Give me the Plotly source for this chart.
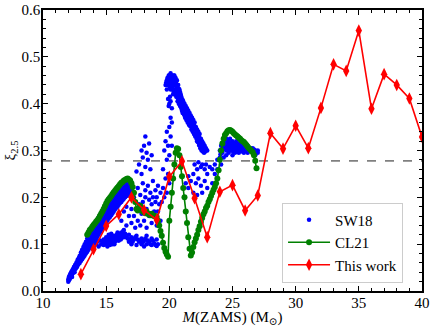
import plotly.graph_objects as go

# ---------------- data ----------------
# This work (red)
tw_mass = [13, 14, 15, 16, 17, 18, 19, 20, 21, 22, 23, 24, 25, 26, 27,
           28, 29, 30, 31, 32, 33, 34, 35, 36, 37, 38, 39, 40]
tw_xi = [0.036, 0.089, 0.139, 0.164, 0.200, 0.173, 0.152, 0.244, 0.277, 0.198,
         0.115, 0.212, 0.226, 0.172, 0.204, 0.337, 0.304, 0.353, 0.305, 0.391,
         0.484, 0.470, 0.556, 0.389, 0.463, 0.440, 0.411, 0.329]

# CL21 (green)
cl_mass = [13.5, 13.6, 13.7, 13.8, 13.9, 14.0, 14.1, 14.2, 14.3, 14.4, 14.5, 14.6, 14.7, 14.8, 14.9,
           15.0, 15.1, 15.2, 15.3, 15.4, 15.5, 15.6, 15.7, 15.8, 15.9, 16.0, 16.1, 16.2, 16.3, 16.4,
           16.5, 16.6, 16.7, 16.8, 16.9, 17.0, 17.1, 17.2, 17.3, 17.4, 17.5, 17.6, 17.7, 17.8, 17.9,
           18.0, 18.1, 18.2, 18.3, 18.4, 18.5, 18.6, 18.7, 18.8, 18.9, 19.0, 19.1, 19.2, 19.3, 19.4,
           19.5, 19.6, 19.7, 19.8, 19.9, 20.0, 20.1, 20.2, 20.3, 20.4, 20.5, 20.6, 20.7, 20.8, 20.9,
           21.0, 21.1, 21.2, 21.3, 21.4, 21.5, 21.6, 21.7, 21.8, 21.9, 22.0, 22.1, 22.2, 22.3, 22.4,
           22.5, 22.6, 22.7, 22.8, 22.9, 23.0, 23.1, 23.2, 23.3, 23.4, 23.5, 23.6, 23.7, 23.8, 23.9,
           24.0, 24.1, 24.2, 24.3, 24.4, 24.5, 24.6, 24.7, 24.8, 24.9, 25.0, 25.1, 25.2, 25.3, 25.4,
           25.5, 25.6, 25.7, 25.8, 25.9, 26.0, 26.1, 26.2, 26.3, 26.4, 26.5, 26.6, 26.7, 26.8, 26.9]
cl_xi = [0.120, 0.125, 0.130, 0.133, 0.137, 0.141, 0.144, 0.148, 0.151, 0.155, 0.160, 0.165, 0.170, 0.175, 0.181,
         0.187, 0.192, 0.196, 0.199, 0.203, 0.207, 0.211, 0.214, 0.218, 0.221, 0.224, 0.228, 0.231, 0.233, 0.236,
         0.237, 0.239, 0.240, 0.238, 0.236, 0.230, 0.222, 0.210, 0.190, 0.175, 0.172, 0.178, 0.182, 0.176, 0.170,
         0.168, 0.166, 0.170, 0.165, 0.163, 0.162, 0.165, 0.161, 0.160, 0.160, 0.158, 0.150, 0.140, 0.128, 0.118,
         0.103, 0.092, 0.084, 0.078, 0.073, 0.150, 0.180, 0.210, 0.240, 0.270, 0.295, 0.305, 0.303, 0.290, 0.265,
         0.245, 0.220, 0.200, 0.170, 0.145, 0.115, 0.090, 0.076, 0.082, 0.094, 0.104, 0.112, 0.120, 0.130, 0.138,
         0.148, 0.156, 0.164, 0.170, 0.177, 0.182, 0.190, 0.196, 0.203, 0.210, 0.216, 0.222, 0.230, 0.240, 0.258,
         0.280, 0.300, 0.315, 0.325, 0.333, 0.337, 0.341, 0.343, 0.344, 0.342, 0.340, 0.337, 0.334, 0.332, 0.330,
         0.327, 0.325, 0.322, 0.320, 0.318, 0.315, 0.312, 0.308, 0.305, 0.302, 0.299, 0.296, 0.290, 0.278, 0.262]

# SW18 (blue) -- (mass, xi) pairs, grouped by region
sw18_main_band = [
    (12.0, 0.020), (12.0, 0.025), (12.1, 0.025), (12.1, 0.032), (12.2, 0.030), (12.2, 0.038),
    (12.3, 0.035), (12.3, 0.042), (12.3, 0.030), (12.4, 0.040), (12.4, 0.047), (12.5, 0.045),
    (12.5, 0.052), (12.5, 0.040), (12.6, 0.048), (12.6, 0.056), (12.7, 0.052), (12.7, 0.062),
    (12.7, 0.058), (12.8, 0.057), (12.8, 0.066), (12.9, 0.060), (12.9, 0.070), (12.9, 0.075),
    (13.0, 0.064), (13.0, 0.075), (13.0, 0.082), (13.1, 0.068), (13.1, 0.080), (13.1, 0.088),
    (13.2, 0.072), (13.2, 0.085), (13.2, 0.094), (13.3, 0.076), (13.3, 0.090), (13.3, 0.100),
    (13.4, 0.080), (13.4, 0.095), (13.4, 0.105), (13.5, 0.084), (13.5, 0.100), (13.5, 0.112),
    (13.6, 0.088), (13.6, 0.104), (13.6, 0.118), (13.7, 0.092), (13.7, 0.110), (13.7, 0.122),
    (13.8, 0.096), (13.8, 0.114), (13.8, 0.128), (13.9, 0.100), (13.9, 0.120), (13.9, 0.133),
    (14.0, 0.105), (14.0, 0.124), (14.0, 0.138), (14.1, 0.108), (14.1, 0.128), (14.1, 0.142),
    (14.2, 0.112), (14.2, 0.133), (14.2, 0.147), (14.3, 0.116), (14.3, 0.137), (14.3, 0.152),
    (14.4, 0.120), (14.4, 0.142), (14.4, 0.157), (14.5, 0.125), (14.5, 0.146), (14.5, 0.162),
    (14.6, 0.130), (14.6, 0.150), (14.6, 0.166), (14.7, 0.134), (14.7, 0.155), (14.7, 0.170),
    (14.8, 0.138), (14.8, 0.160), (14.8, 0.175), (14.9, 0.143), (14.9, 0.164), (14.9, 0.180),
    (15.0, 0.148), (15.0, 0.168), (15.0, 0.183), (15.1, 0.150), (15.1, 0.172), (15.1, 0.187),
    (15.2, 0.155), (15.2, 0.176), (15.2, 0.190), (15.3, 0.158), (15.3, 0.180), (15.3, 0.194),
    (15.4, 0.162), (15.4, 0.184), (15.4, 0.198), (15.5, 0.166), (15.5, 0.188), (15.5, 0.201),
    (15.6, 0.170), (15.6, 0.191), (15.6, 0.205), (15.7, 0.174), (15.7, 0.195), (15.7, 0.208),
    (15.8, 0.178), (15.8, 0.198), (15.8, 0.212), (15.9, 0.180), (15.9, 0.200), (15.9, 0.215),
    (16.0, 0.184), (16.0, 0.204), (16.0, 0.218), (16.1, 0.188), (16.1, 0.207), (16.1, 0.221),
    (16.2, 0.190), (16.2, 0.210), (16.2, 0.224), (16.3, 0.194), (16.3, 0.213), (16.3, 0.226),
    (16.4, 0.197), (16.4, 0.216), (16.4, 0.229), (16.5, 0.200), (16.5, 0.219), (16.5, 0.232),
    (16.6, 0.203), (16.6, 0.222), (16.7, 0.205), (16.7, 0.224), (16.8, 0.208), (16.8, 0.226),
    (16.9, 0.210), (16.9, 0.222), (17.0, 0.200), (17.0, 0.215),
]
sw18_band_fill = [
    (12.05, 0.023), (12.05, 0.030), (12.15, 0.029), (12.15, 0.036), (12.25, 0.034), (12.25, 0.041),
    (12.35, 0.038), (12.35, 0.046), (12.45, 0.043), (12.45, 0.051), (12.55, 0.048), (12.55, 0.056),
    (12.65, 0.052), (12.65, 0.061), (12.75, 0.056), (12.75, 0.067), (12.85, 0.061), (12.85, 0.071),
    (12.95, 0.065), (12.95, 0.076), (13.05, 0.070), (13.05, 0.082), (13.15, 0.074), (13.15, 0.087),
    (13.25, 0.079), (13.25, 0.093), (13.35, 0.083), (13.35, 0.098), (13.45, 0.087), (13.45, 0.103),
    (13.55, 0.092), (13.55, 0.108), (13.65, 0.096), (13.65, 0.113), (13.75, 0.100), (13.75, 0.118),
    (13.85, 0.105), (13.85, 0.122), (13.95, 0.110), (13.95, 0.127), (14.05, 0.114), (14.05, 0.132),
    (14.15, 0.118), (14.15, 0.136), (14.25, 0.123), (14.25, 0.141), (14.35, 0.127), (14.35, 0.145),
    (14.45, 0.132), (14.45, 0.150), (14.55, 0.136), (14.55, 0.155), (14.65, 0.141), (14.65, 0.159),
    (14.75, 0.145), (14.75, 0.163), (14.85, 0.150), (14.85, 0.168), (14.95, 0.154), (14.95, 0.172),
    (15.05, 0.158), (15.05, 0.176), (15.15, 0.162), (15.15, 0.180), (15.25, 0.166), (15.25, 0.184),
    (15.35, 0.170), (15.35, 0.188), (15.45, 0.174), (15.45, 0.192), (15.55, 0.178), (15.55, 0.195),
    (15.65, 0.182), (15.65, 0.199), (15.75, 0.186), (15.75, 0.202), (15.85, 0.189), (15.85, 0.206),
    (15.95, 0.192), (15.95, 0.209), (16.05, 0.195), (16.05, 0.212), (16.15, 0.198), (16.15, 0.215),
    (16.25, 0.201), (16.25, 0.218), (16.35, 0.204), (16.35, 0.221), (16.45, 0.207), (16.45, 0.224),
    (16.55, 0.210), (16.55, 0.227), (16.65, 0.213), (16.65, 0.230), (16.75, 0.216), (16.75, 0.232),
    (16.85, 0.218), (16.85, 0.234),
]
sw18_low_branch = [
    (14.2, 0.100), (14.4, 0.095), (14.6, 0.100), (14.8, 0.098), (14.8, 0.110), (15.0, 0.100),
    (15.0, 0.115), (15.1, 0.095), (15.2, 0.105), (15.2, 0.120), (15.3, 0.098), (15.4, 0.110),
    (15.4, 0.122), (15.5, 0.100), (15.6, 0.112), (15.7, 0.105), (15.7, 0.118), (15.8, 0.110),
    (15.9, 0.115), (15.9, 0.125), (16.0, 0.108), (16.1, 0.118), (16.2, 0.112), (16.2, 0.125),
    (16.3, 0.120), (16.4, 0.115), (16.4, 0.130), (16.5, 0.122), (16.8, 0.105), (16.8, 0.120),
    (17.0, 0.100), (17.0, 0.115), (17.2, 0.110), (17.4, 0.098), (17.4, 0.118), (17.6, 0.105),
    (17.8, 0.100), (17.8, 0.112), (18.0, 0.095), (18.0, 0.108), (18.2, 0.100), (18.2, 0.118),
    (18.4, 0.105), (18.6, 0.098), (18.6, 0.112), (18.8, 0.102), (19.0, 0.096), (19.0, 0.110),
    (19.1, 0.100),
    (14.3, 0.105), (14.5, 0.108), (14.7, 0.106), (14.9, 0.104), (15.05, 0.108), (15.15, 0.112),
    (15.25, 0.100), (15.35, 0.115), (15.45, 0.105), (15.55, 0.118), (15.65, 0.100), (15.75, 0.112),
    (15.85, 0.120), (15.95, 0.108), (16.05, 0.122), (16.15, 0.110), (16.25, 0.118), (16.35, 0.128),
    (16.45, 0.120), (16.6, 0.115), (16.7, 0.112), (16.9, 0.110), (17.1, 0.105), (17.3, 0.115),
    (17.5, 0.110), (17.7, 0.108), (17.9, 0.104), (18.1, 0.112), (18.3, 0.108), (18.5, 0.100),
    (18.7, 0.108), (18.9, 0.098),
]
sw18_scatter_mid = [
    (16.2, 0.150), (16.4, 0.170), (16.6, 0.140), (16.6, 0.180), (16.8, 0.160), (17.0, 0.145),
    (17.0, 0.175), (17.2, 0.160), (17.2, 0.200), (17.3, 0.135), (17.5, 0.150), (17.5, 0.220),
    (17.6, 0.185), (17.7, 0.140), (17.7, 0.205), (17.8, 0.165), (17.9, 0.190), (17.9, 0.230),
    (18.0, 0.150), (18.1, 0.200), (18.1, 0.215), (18.2, 0.135), (18.2, 0.175), (18.3, 0.225),
    (18.4, 0.160), (18.4, 0.195), (18.5, 0.210), (18.6, 0.145), (18.6, 0.185), (18.7, 0.200),
    (18.7, 0.235), (18.8, 0.170), (18.9, 0.190), (18.9, 0.215), (19.0, 0.140), (19.0, 0.200),
    (19.1, 0.170), (19.1, 0.225), (19.2, 0.185), (19.3, 0.150), (19.3, 0.210), (19.4, 0.190),
    (17.4, 0.255), (17.6, 0.270), (17.8, 0.300), (17.8, 0.250), (17.9, 0.285), (18.0, 0.310),
    (18.1, 0.330), (18.1, 0.265), (18.2, 0.295), (18.3, 0.280), (18.4, 0.315), (18.5, 0.260),
    (18.6, 0.290),
    (19.5, 0.220), (19.5, 0.260), (19.6, 0.200), (19.6, 0.300), (19.7, 0.240), (19.7, 0.320),
    (19.8, 0.210), (19.8, 0.280), (19.8, 0.340), (19.9, 0.250), (19.9, 0.310), (20.0, 0.230),
    (20.0, 0.290), (20.0, 0.350), (20.1, 0.330), (20.1, 0.370), (20.2, 0.310), (20.2, 0.360),
    (20.2, 0.390),
]
sw18_tower = [
    (19.7, 0.440), (19.8, 0.450), (19.8, 0.430), (19.9, 0.455), (20.0, 0.460), (20.0, 0.440),
    (20.0, 0.450), (20.1, 0.465), (20.1, 0.445), (20.1, 0.430), (20.2, 0.460), (20.2, 0.450),
    (20.2, 0.435), (20.3, 0.455), (20.3, 0.440), (20.3, 0.420), (20.4, 0.460), (20.4, 0.450),
    (20.4, 0.430), (20.5, 0.455), (20.5, 0.440), (20.5, 0.425), (20.6, 0.450), (20.6, 0.435),
    (20.6, 0.415), (20.7, 0.440), (20.7, 0.425), (20.7, 0.410), (20.8, 0.430), (20.8, 0.415),
    (20.8, 0.400), (20.9, 0.420), (20.9, 0.405), (20.9, 0.395), (21.0, 0.410), (21.0, 0.400),
    (21.0, 0.385), (21.1, 0.405), (21.1, 0.390), (21.2, 0.400), (21.2, 0.385), (21.2, 0.375),
    (21.3, 0.395), (21.3, 0.380), (21.4, 0.390), (21.4, 0.375), (21.4, 0.365), (21.5, 0.385),
    (21.5, 0.370), (21.6, 0.380), (21.6, 0.365), (21.7, 0.375), (21.7, 0.360), (21.8, 0.370),
    (21.8, 0.355), (21.8, 0.345), (21.9, 0.365), (21.9, 0.350), (22.0, 0.360), (22.0, 0.345),
    (22.0, 0.335), (22.1, 0.350), (22.1, 0.335), (22.2, 0.345), (22.2, 0.330), (22.2, 0.320),
    (22.3, 0.340), (22.3, 0.325), (22.4, 0.335), (22.4, 0.320), (22.4, 0.310), (22.5, 0.325),
    (22.5, 0.310), (22.6, 0.320), (22.6, 0.305), (22.7, 0.315), (22.7, 0.300), (22.8, 0.310),
    (22.8, 0.305), (22.9, 0.305), (23.0, 0.300),
    (19.75, 0.445), (19.85, 0.440), (19.85, 0.455), (19.95, 0.445), (19.95, 0.460), (20.05, 0.435),
    (20.05, 0.455), (20.15, 0.440), (20.15, 0.458), (20.25, 0.430), (20.25, 0.448), (20.35, 0.425),
    (20.35, 0.445), (20.35, 0.460), (20.45, 0.420), (20.45, 0.440), (20.45, 0.455), (20.55, 0.415),
    (20.55, 0.432), (20.55, 0.448), (20.65, 0.405), (20.65, 0.425), (20.65, 0.440), (20.75, 0.400),
    (20.75, 0.418), (20.75, 0.432), (20.85, 0.395), (20.85, 0.410), (20.85, 0.425), (20.95, 0.390),
    (20.95, 0.402), (20.95, 0.415), (21.05, 0.380), (21.05, 0.395), (21.05, 0.408), (21.15, 0.378),
    (21.15, 0.392), (21.25, 0.370), (21.25, 0.390), (21.35, 0.365), (21.35, 0.385), (21.45, 0.360),
    (21.45, 0.380), (21.55, 0.355), (21.55, 0.375), (21.65, 0.352), (21.65, 0.370), (21.75, 0.345),
    (21.75, 0.365), (21.85, 0.340), (21.85, 0.360), (21.95, 0.335), (21.95, 0.355), (22.05, 0.330),
    (22.05, 0.350), (22.15, 0.325), (22.15, 0.342), (22.25, 0.318), (22.25, 0.335), (22.35, 0.312),
    (22.35, 0.330), (22.45, 0.305), (22.45, 0.322), (22.55, 0.300), (22.55, 0.316), (22.65, 0.298),
    (22.65, 0.310), (22.75, 0.295), (22.75, 0.306), (22.85, 0.298),
    (19.90, 0.410), (20.00, 0.400), (20.05, 0.415), (19.95, 0.395), (20.10, 0.405),
]
sw18_under = [
    (21.3, 0.230), (21.5, 0.220), (21.5, 0.245), (21.7, 0.235), (21.9, 0.250), (21.9, 0.210),
    (22.0, 0.270), (22.1, 0.230), (22.2, 0.260), (22.2, 0.205), (22.3, 0.275), (22.3, 0.240),
    (22.5, 0.265), (22.5, 0.225), (22.6, 0.270), (22.6, 0.210), (22.8, 0.260), (22.8, 0.235),
    (22.9, 0.270), (23.0, 0.250), (23.0, 0.220), (23.2, 0.265), (23.4, 0.260), (23.4, 0.230),
    (23.6, 0.270), (23.6, 0.250), (23.8, 0.280), (23.8, 0.260),
]
sw18_late = [
    (24.0, 0.285), (24.0, 0.300), (24.1, 0.310), (24.1, 0.270), (24.2, 0.295), (24.2, 0.315),
    (24.3, 0.305), (24.3, 0.325), (24.3, 0.285), (24.4, 0.310), (24.4, 0.320), (24.5, 0.300),
    (24.5, 0.325), (24.5, 0.290), (24.6, 0.315), (24.6, 0.305), (24.7, 0.320), (24.7, 0.295),
    (24.8, 0.310), (24.8, 0.325), (24.9, 0.300), (24.9, 0.315), (25.0, 0.305), (25.0, 0.320),
    (25.0, 0.290), (25.1, 0.310), (25.1, 0.300), (25.2, 0.315), (25.2, 0.295), (25.3, 0.305),
    (25.3, 0.320), (25.4, 0.300), (25.4, 0.310), (25.5, 0.305), (25.5, 0.295), (25.5, 0.315),
    (25.6, 0.310), (25.6, 0.300), (25.7, 0.305), (25.8, 0.300), (25.8, 0.315), (25.9, 0.310),
    (25.9, 0.295), (26.0, 0.305), (26.0, 0.300), (26.2, 0.310), (26.2, 0.295), (26.4, 0.300),
    (26.4, 0.305), (26.6, 0.305), (26.6, 0.295), (26.8, 0.300), (26.8, 0.290), (27.0, 0.300),
    (27.0, 0.295),
    (24.05, 0.292), (24.15, 0.300), (24.25, 0.310), (24.35, 0.315), (24.45, 0.305), (24.55, 0.310),
    (24.65, 0.300), (24.75, 0.310), (24.85, 0.305), (24.95, 0.310), (25.05, 0.298), (25.15, 0.305),
    (25.25, 0.310), (25.35, 0.298), (25.45, 0.305), (25.65, 0.308), (25.75, 0.298), (25.95, 0.302),
    (26.10, 0.305), (26.30, 0.300), (26.50, 0.298), (26.70, 0.302), (26.90, 0.296),
]

threshold_xi = 0.278

# ---------------- figure ----------------
sw18_all = (sw18_main_band + sw18_band_fill + sw18_low_branch + sw18_scatter_mid
            + sw18_tower + sw18_under + sw18_late)
sw_mass = [p[0] for p in sw18_all]
sw_xi = [p[1] for p in sw18_all]

FONT = "'Liberation Serif', 'Times New Roman', 'DejaVu Serif', serif"
FS = 15

fig = go.Figure()
fig.add_trace(go.Scatter(
    x=sw_mass, y=sw_xi, mode="markers", name="SW18",
    marker=dict(color="#0000ff", size=4.5, line=dict(width=0)),
))
fig.add_trace(go.Scatter(
    x=cl_mass, y=cl_xi, mode="lines+markers", name="CL21",
    line=dict(color="#008000", width=1.6),
    marker=dict(color="#008000", size=6),
))
fig.add_trace(go.Scatter(
    x=tw_mass, y=tw_xi, mode="lines+markers", name="This work",
    line=dict(color="#ff0000", width=1.6),
    marker=dict(color="#ff0000", size=9, symbol="diamond-tall"),
))

fig.add_hline(y=threshold_xi, line=dict(color="#808080", width=1.8, dash="dash"), layer="below")

axis_common = dict(
    showline=True, linecolor="black", linewidth=1.5, mirror="allticks",
    ticks="inside", ticklen=5, tickwidth=1.2, tickcolor="black",
    showgrid=False, zeroline=False, automargin=False,
    tickfont=dict(family=FONT, size=FS, color="black"),
)

fig.update_xaxes(
    range=[10, 40], dtick=5, tick0=10,
    minor=dict(dtick=1, ticks="inside", ticklen=3, tickwidth=1, tickcolor="black", showgrid=False),
    title=dict(text="<i>M</i>(ZAMS) (M<sub>⊙</sub>)", font=dict(family=FONT, size=FS, color="black"),
               standoff=5),
    ticklabelstandoff=-3,
    **axis_common,
)
fig.update_yaxes(
    range=[0, 0.6], dtick=0.1, tick0=0, tickformat=".1f",
    minor=dict(dtick=0.02, ticks="inside", ticklen=3, tickwidth=1, tickcolor="black", showgrid=False),
    title=dict(text="ξ<sub>2.5</sub>", font=dict(family=FONT, size=FS, color="black"), standoff=2),
    ticklabelstandoff=-2,
    **axis_common,
)

fig.update_layout(
    width=436, height=327,
    margin=dict(l=43, r=14, t=10, b=36),
    plot_bgcolor="white", paper_bgcolor="white",
    font=dict(family=FONT, size=FS, color="black"),
    showlegend=True,
    legend=dict(
        x=0.95, y=0.03, xanchor="right", yanchor="bottom",
        bgcolor="rgba(255,255,255,0.8)", bordercolor="#cccccc", borderwidth=1,
        font=dict(family=FONT, size=FS, color="black"),
        tracegroupgap=0, itemwidth=42,
    ),
)

fig.write_html(
    "out.html",
    config={"displayModeBar": False},
    post_script="document.body.style.margin='0';document.body.style.padding='0';",
)
